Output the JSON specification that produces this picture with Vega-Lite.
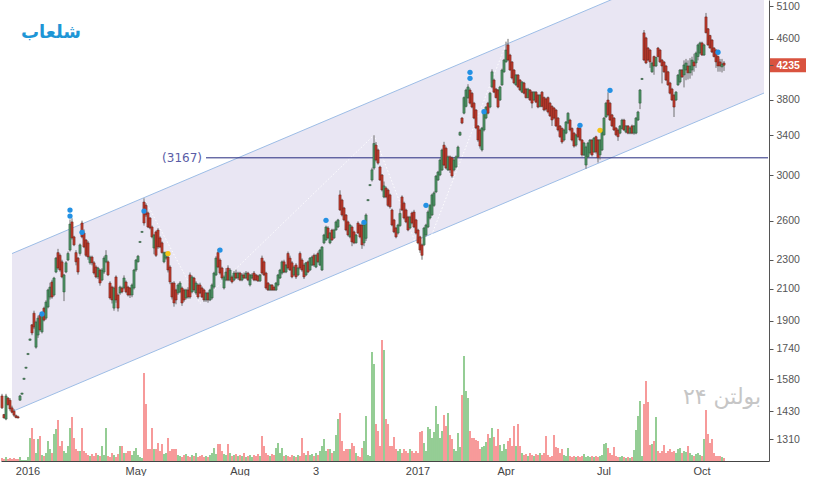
{
  "$schema": "https://vega.github.io/schema/vega-lite/v6.json",
  "width": 768,
  "height": 461,
  "padding": 0,
  "background": "white",
  "config": {"view": {"stroke": null}, "font": "Liberation Sans"},
  "title": {"text": "شلعاب", "anchor": "start", "frame": "group", "offset": -42, "dx": 20, "font": "DejaVu Sans", "fontSize": 18, "fontWeight": "bold", "color": "#1e96d6"},
  "datasets": {
    "bars": [
      {"d":"2015-12-14","o":1500,"h":1510,"l":1440,"c":1445,"v":30},
      {"d":"2015-12-15","o":1415,"h":1418,"l":1398,"c":1400,"v":20},
      {"d":"2015-12-16","o":1395,"h":1510,"l":1390,"c":1500,"v":40},
      {"d":"2015-12-19","o":1490,"h":1495,"l":1455,"c":1460,"v":20},
      {"d":"2015-12-20","o":1480,"h":1490,"l":1430,"c":1440,"v":30},
      {"d":"2015-12-21","o":1445,"h":1455,"l":1420,"c":1425,"v":20},
      {"d":"2015-12-22","o":1430,"h":1440,"l":1405,"c":1412,"v":30},
      {"d":"2015-12-23","o":1410,"h":1415,"l":1398,"c":1402,"v":20},
      {"d":"2015-12-26","o":1405,"h":1410,"l":1398,"c":1400,"v":20},
      {"d":"2015-12-27","o":1480,"h":1505,"l":1478,"c":1500,"v":40},
      {"d":"2015-12-28","o":1508,"h":1514,"l":1508,"c":1514,"v":10},
      {"d":"2015-12-29","o":1580,"h":1586,"l":1580,"c":1586,"v":10},
      {"d":"2015-12-30","o":1636,"h":1642,"l":1636,"c":1642,"v":10},
      {"d":"2016-01-02","o":1708,"h":1714,"l":1708,"c":1714,"v":40},
      {"d":"2016-01-03","o":1786,"h":1794,"l":1786,"c":1794,"v":230},
      {"d":"2016-01-04","o":1875,"h":1880,"l":1815,"c":1828,"v":330},
      {"d":"2016-01-05","o":1945,"h":1960,"l":1850,"c":1862,"v":220},
      {"d":"2016-01-06","o":1748,"h":1900,"l":1740,"c":1891,"v":80},
      {"d":"2016-01-09","o":1816,"h":1930,"l":1800,"c":1915,"v":220},
      {"d":"2016-01-10","o":1933,"h":1940,"l":1835,"c":1845,"v":250},
      {"d":"2016-01-11","o":1834,"h":1950,"l":1825,"c":1939,"v":60},
      {"d":"2016-01-12","o":1976,"h":1985,"l":1895,"c":1903,"v":50},
      {"d":"2016-01-13","o":1915,"h":2025,"l":1905,"c":2014,"v":80},
      {"d":"2016-01-16","o":1983,"h":2100,"l":1975,"c":2092,"v":200},
      {"d":"2016-01-17","o":2046,"h":2140,"l":2030,"c":2111,"v":120},
      {"d":"2016-01-18","o":2145,"h":2160,"l":2035,"c":2046,"v":80},
      {"d":"2016-01-19","o":2059,"h":2180,"l":2050,"c":2172,"v":270},
      {"d":"2016-01-20","o":2213,"h":2320,"l":2205,"c":2312,"v":320},
      {"d":"2016-01-23","o":2352,"h":2380,"l":2230,"c":2241,"v":410},
      {"d":"2016-01-24","o":2332,"h":2345,"l":2215,"c":2227,"v":150},
      {"d":"2016-01-25","o":2285,"h":2300,"l":2170,"c":2179,"v":200},
      {"d":"2016-01-26","o":2079,"h":2200,"l":2020,"c":2193,"v":100},
      {"d":"2016-01-27","o":2213,"h":2290,"l":2205,"c":2278,"v":80},
      {"d":"2016-01-30","o":2298,"h":2360,"l":2290,"c":2346,"v":150},
      {"d":"2016-01-31","o":2371,"h":2610,"l":2360,"c":2573,"v":330},
      {"d":"2016-02-01","o":2590,"h":2620,"l":2450,"c":2463,"v":440},
      {"d":"2016-02-02","o":2471,"h":2480,"l":2400,"c":2410,"v":230},
      {"d":"2016-02-03","o":2352,"h":2370,"l":2260,"c":2285,"v":120},
      {"d":"2016-03-05","o":2312,"h":2320,"l":2195,"c":2213,"v":100},
      {"d":"2016-03-06","o":2346,"h":2420,"l":2330,"c":2410,"v":100},
      {"d":"2016-03-07","o":2581,"h":2600,"l":2460,"c":2471,"v":330},
      {"d":"2016-03-08","o":2501,"h":2530,"l":2385,"c":2394,"v":100},
      {"d":"2016-03-09","o":2447,"h":2455,"l":2320,"c":2332,"v":80},
      {"d":"2016-03-12","o":2425,"h":2440,"l":2300,"c":2320,"v":60},
      {"d":"2016-03-13","o":2278,"h":2330,"l":2265,"c":2320,"v":50},
      {"d":"2016-03-14","o":2320,"h":2330,"l":2260,"c":2278,"v":70},
      {"d":"2016-03-15","o":2278,"h":2290,"l":2195,"c":2206,"v":50},
      {"d":"2016-03-16","o":2248,"h":2260,"l":2170,"c":2179,"v":80},
      {"d":"2016-04-03","o":2179,"h":2250,"l":2165,"c":2241,"v":60},
      {"d":"2016-04-04","o":2227,"h":2235,"l":2120,"c":2138,"v":50},
      {"d":"2016-04-05","o":2158,"h":2240,"l":2150,"c":2227,"v":150},
      {"d":"2016-04-06","o":2213,"h":2325,"l":2200,"c":2312,"v":60},
      {"d":"2016-04-09","o":2285,"h":2370,"l":2275,"c":2332,"v":330},
      {"d":"2016-04-10","o":2285,"h":2295,"l":2185,"c":2193,"v":50},
      {"d":"2016-04-11","o":2138,"h":2150,"l":2030,"c":2040,"v":40},
      {"d":"2016-04-12","o":2111,"h":2120,"l":2005,"c":2027,"v":80},
      {"d":"2016-04-13","o":1976,"h":2115,"l":1960,"c":2105,"v":60},
      {"d":"2016-04-16","o":2179,"h":2190,"l":2010,"c":2027,"v":40},
      {"d":"2016-04-17","o":2059,"h":2070,"l":1955,"c":1976,"v":70},
      {"d":"2016-04-18","o":2072,"h":2120,"l":2060,"c":2111,"v":150},
      {"d":"2016-04-19","o":2105,"h":2115,"l":2070,"c":2079,"v":150},
      {"d":"2016-04-20","o":2105,"h":2190,"l":2095,"c":2172,"v":80},
      {"d":"2016-04-23","o":2145,"h":2155,"l":2070,"c":2079,"v":80},
      {"d":"2016-04-24","o":2111,"h":2120,"l":2050,"c":2059,"v":100},
      {"d":"2016-04-25","o":2105,"h":2110,"l":2040,"c":2059,"v":100},
      {"d":"2016-04-26","o":2059,"h":2135,"l":2045,"c":2125,"v":60},
      {"d":"2016-04-27","o":2105,"h":2235,"l":2095,"c":2227,"v":100},
      {"d":"2016-05-01","o":2227,"h":2305,"l":2215,"c":2298,"v":130},
      {"d":"2016-05-02","o":2285,"h":2335,"l":2280,"c":2326,"v":60},
      {"d":"2016-05-03","o":2428,"h":2436,"l":2428,"c":2436,"v":40},
      {"d":"2016-05-04","o":2506,"h":2514,"l":2506,"c":2514,"v":30},
      {"d":"2016-05-07","o":2757,"h":2790,"l":2560,"c":2581,"v":880},
      {"d":"2016-05-08","o":2728,"h":2745,"l":2630,"c":2647,"v":570},
      {"d":"2016-05-09","o":2664,"h":2675,"l":2540,"c":2549,"v":120},
      {"d":"2016-05-10","o":2622,"h":2630,"l":2530,"c":2541,"v":120},
      {"d":"2016-05-11","o":2549,"h":2560,"l":2460,"c":2471,"v":330},
      {"d":"2016-05-14","o":2386,"h":2495,"l":2340,"c":2486,"v":120},
      {"d":"2016-05-15","o":2510,"h":2520,"l":2320,"c":2332,"v":120},
      {"d":"2016-05-16","o":2525,"h":2540,"l":2380,"c":2394,"v":180},
      {"d":"2016-05-17","o":2463,"h":2475,"l":2385,"c":2394,"v":100},
      {"d":"2016-05-18","o":2425,"h":2435,"l":2345,"c":2352,"v":170},
      {"d":"2016-05-21","o":2285,"h":2360,"l":2275,"c":2352,"v":70},
      {"d":"2016-05-22","o":2312,"h":2360,"l":2300,"c":2352,"v":80},
      {"d":"2016-05-23","o":2320,"h":2330,"l":2210,"c":2227,"v":230},
      {"d":"2016-05-24","o":2248,"h":2260,"l":2130,"c":2145,"v":100},
      {"d":"2016-05-25","o":2138,"h":2145,"l":2030,"c":2046,"v":120},
      {"d":"2016-05-28","o":2138,"h":2150,"l":1985,"c":2008,"v":120},
      {"d":"2016-05-29","o":2092,"h":2100,"l":2000,"c":2027,"v":120},
      {"d":"2016-05-30","o":2072,"h":2135,"l":2060,"c":2125,"v":60},
      {"d":"2016-06-01","o":2079,"h":2150,"l":2070,"c":2138,"v":50},
      {"d":"2016-06-06","o":2105,"h":2115,"l":1990,"c":2008,"v":40},
      {"d":"2016-06-07","o":2092,"h":2100,"l":2015,"c":2027,"v":60},
      {"d":"2016-06-08","o":2040,"h":2100,"l":2030,"c":2092,"v":70},
      {"d":"2016-06-18","o":2092,"h":2110,"l":2035,"c":2046,"v":50},
      {"d":"2016-06-19","o":2193,"h":2210,"l":2035,"c":2046,"v":40},
      {"d":"2016-06-20","o":2079,"h":2190,"l":2070,"c":2179,"v":60},
      {"d":"2016-06-21","o":2172,"h":2180,"l":2080,"c":2092,"v":50},
      {"d":"2016-06-22","o":2072,"h":2150,"l":2060,"c":2138,"v":80},
      {"d":"2016-06-25","o":2125,"h":2135,"l":2035,"c":2046,"v":40},
      {"d":"2016-06-26","o":2125,"h":2140,"l":2065,"c":2072,"v":50},
      {"d":"2016-06-28","o":2105,"h":2115,"l":2040,"c":2046,"v":60},
      {"d":"2016-06-29","o":2092,"h":2100,"l":2015,"c":2027,"v":40},
      {"d":"2016-07-09","o":2027,"h":2080,"l":2015,"c":2072,"v":50},
      {"d":"2016-07-10","o":2072,"h":2080,"l":2010,"c":2027,"v":40},
      {"d":"2016-07-11","o":2027,"h":2100,"l":2020,"c":2092,"v":60},
      {"d":"2016-07-12","o":2040,"h":2135,"l":2030,"c":2125,"v":80},
      {"d":"2016-07-13","o":2111,"h":2215,"l":2100,"c":2206,"v":130},
      {"d":"2016-07-16","o":2193,"h":2325,"l":2185,"c":2312,"v":70},
      {"d":"2016-07-17","o":2352,"h":2380,"l":2240,"c":2248,"v":170},
      {"d":"2016-07-18","o":2298,"h":2310,"l":2195,"c":2206,"v":170},
      {"d":"2016-07-19","o":2241,"h":2250,"l":2160,"c":2172,"v":100},
      {"d":"2016-07-20","o":2105,"h":2190,"l":2095,"c":2179,"v":70},
      {"d":"2016-07-23","o":2158,"h":2240,"l":2150,"c":2213,"v":60},
      {"d":"2016-07-24","o":2241,"h":2260,"l":2150,"c":2158,"v":170},
      {"d":"2016-07-25","o":2158,"h":2240,"l":2150,"c":2227,"v":80},
      {"d":"2016-07-26","o":2179,"h":2190,"l":2135,"c":2145,"v":50},
      {"d":"2016-07-27","o":2158,"h":2220,"l":2150,"c":2206,"v":60},
      {"d":"2016-07-30","o":2206,"h":2230,"l":2165,"c":2172,"v":70},
      {"d":"2016-07-31","o":2172,"h":2215,"l":2160,"c":2206,"v":50},
      {"d":"2016-08-01","o":2206,"h":2215,"l":2150,"c":2158,"v":60},
      {"d":"2016-08-02","o":2158,"h":2205,"l":2150,"c":2193,"v":50},
      {"d":"2016-08-03","o":2193,"h":2210,"l":2165,"c":2172,"v":80},
      {"d":"2016-08-06","o":2172,"h":2220,"l":2165,"c":2206,"v":40},
      {"d":"2016-08-07","o":2206,"h":2215,"l":2150,"c":2158,"v":50},
      {"d":"2016-08-08","o":2125,"h":2200,"l":2115,"c":2193,"v":60},
      {"d":"2016-08-09","o":2172,"h":2205,"l":2165,"c":2193,"v":40},
      {"d":"2016-08-10","o":2206,"h":2220,"l":2150,"c":2158,"v":60},
      {"d":"2016-08-13","o":2193,"h":2200,"l":2150,"c":2158,"v":50},
      {"d":"2016-08-14","o":2186,"h":2195,"l":2145,"c":2152,"v":70},
      {"d":"2016-08-15","o":2152,"h":2200,"l":2145,"c":2193,"v":50},
      {"d":"2016-08-16","o":2312,"h":2330,"l":2195,"c":2206,"v":250},
      {"d":"2016-08-17","o":2285,"h":2295,"l":2185,"c":2193,"v":150},
      {"d":"2016-08-20","o":2206,"h":2215,"l":2095,"c":2105,"v":80},
      {"d":"2016-08-21","o":2138,"h":2145,"l":2085,"c":2092,"v":60},
      {"d":"2016-08-22","o":2092,"h":2130,"l":2085,"c":2125,"v":50},
      {"d":"2016-08-23","o":2125,"h":2130,"l":2085,"c":2092,"v":70},
      {"d":"2016-08-24","o":2111,"h":2115,"l":2085,"c":2092,"v":60},
      {"d":"2016-09-03","o":2092,"h":2145,"l":2085,"c":2138,"v":130},
      {"d":"2016-09-04","o":2125,"h":2200,"l":2115,"c":2193,"v":180},
      {"d":"2016-09-05","o":2172,"h":2235,"l":2165,"c":2227,"v":80},
      {"d":"2016-09-06","o":2206,"h":2295,"l":2195,"c":2285,"v":130},
      {"d":"2016-09-07","o":2285,"h":2300,"l":2205,"c":2213,"v":50},
      {"d":"2016-09-10","o":2213,"h":2270,"l":2205,"c":2262,"v":60},
      {"d":"2016-09-11","o":2346,"h":2360,"l":2230,"c":2241,"v":50},
      {"d":"2016-09-13","o":2312,"h":2330,"l":2220,"c":2227,"v":40},
      {"d":"2016-09-14","o":2278,"h":2290,"l":2170,"c":2179,"v":60},
      {"d":"2016-09-17","o":2193,"h":2260,"l":2185,"c":2248,"v":50},
      {"d":"2016-09-18","o":2262,"h":2275,"l":2165,"c":2179,"v":40},
      {"d":"2016-09-19","o":2193,"h":2250,"l":2185,"c":2241,"v":60},
      {"d":"2016-09-21","o":2346,"h":2360,"l":2230,"c":2241,"v":50},
      {"d":"2016-09-24","o":2298,"h":2310,"l":2215,"c":2227,"v":230},
      {"d":"2016-09-25","o":2262,"h":2275,"l":2165,"c":2179,"v":80},
      {"d":"2016-09-26","o":2193,"h":2285,"l":2185,"c":2278,"v":60},
      {"d":"2016-09-27","o":2285,"h":2295,"l":2205,"c":2213,"v":100},
      {"d":"2016-09-28","o":2227,"h":2320,"l":2220,"c":2312,"v":60},
      {"d":"2016-10-01","o":2262,"h":2330,"l":2255,"c":2320,"v":70},
      {"d":"2016-10-02","o":2332,"h":2345,"l":2250,"c":2262,"v":50},
      {"d":"2016-10-03","o":2248,"h":2340,"l":2240,"c":2332,"v":80},
      {"d":"2016-10-04","o":2346,"h":2360,"l":2275,"c":2285,"v":60},
      {"d":"2016-10-05","o":2262,"h":2380,"l":2255,"c":2371,"v":100},
      {"d":"2016-10-08","o":2227,"h":2400,"l":2220,"c":2394,"v":150},
      {"d":"2016-10-09","o":2425,"h":2495,"l":2415,"c":2486,"v":220},
      {"d":"2016-10-10","o":2447,"h":2560,"l":2440,"c":2549,"v":100},
      {"d":"2016-10-15","o":2541,"h":2555,"l":2455,"c":2463,"v":120},
      {"d":"2016-10-16","o":2425,"h":2510,"l":2415,"c":2501,"v":120},
      {"d":"2016-10-17","o":2525,"h":2535,"l":2440,"c":2447,"v":80},
      {"d":"2016-10-18","o":2463,"h":2535,"l":2455,"c":2525,"v":100},
      {"d":"2016-10-19","o":2525,"h":2600,"l":2520,"c":2590,"v":260},
      {"d":"2016-10-22","o":2549,"h":2615,"l":2540,"c":2606,"v":420},
      {"d":"2016-10-23","o":2819,"h":2860,"l":2680,"c":2689,"v":480},
      {"d":"2016-10-24","o":2774,"h":2785,"l":2635,"c":2647,"v":200},
      {"d":"2016-10-25","o":2706,"h":2715,"l":2595,"c":2606,"v":100},
      {"d":"2016-10-26","o":2647,"h":2655,"l":2515,"c":2525,"v":120},
      {"d":"2016-10-29","o":2590,"h":2600,"l":2475,"c":2486,"v":120},
      {"d":"2016-10-30","o":2471,"h":2575,"l":2460,"c":2565,"v":120},
      {"d":"2016-10-31","o":2549,"h":2560,"l":2400,"c":2432,"v":180},
      {"d":"2016-11-01","o":2510,"h":2520,"l":2415,"c":2425,"v":150},
      {"d":"2016-11-02","o":2425,"h":2495,"l":2420,"c":2486,"v":80},
      {"d":"2016-11-08","o":2581,"h":2595,"l":2495,"c":2501,"v":50},
      {"d":"2016-11-09","o":2565,"h":2575,"l":2460,"c":2471,"v":40},
      {"d":"2016-11-12","o":2565,"h":2580,"l":2380,"c":2410,"v":130},
      {"d":"2016-11-13","o":2425,"h":2580,"l":2400,"c":2565,"v":200},
      {"d":"2016-11-14","o":2460,"h":2660,"l":2440,"c":2647,"v":450},
      {"d":"2016-11-15","o":2768,"h":2778,"l":2768,"c":2778,"v":60},
      {"d":"2016-11-16","o":2902,"h":2912,"l":2902,"c":2912,"v":50},
      {"d":"2016-11-19","o":2954,"h":3070,"l":2940,"c":3050,"v":1090},
      {"d":"2016-11-21","o":3067,"h":3400,"l":3050,"c":3313,"v":970},
      {"d":"2016-11-22","o":3296,"h":3330,"l":3130,"c":3145,"v":370},
      {"d":"2016-11-23","o":3246,"h":3260,"l":3100,"c":3115,"v":300},
      {"d":"2016-11-26","o":3077,"h":3090,"l":2945,"c":2954,"v":150},
      {"d":"2016-11-27","o":3001,"h":3010,"l":2850,"c":2863,"v":1210},
      {"d":"2016-11-30","o":2800,"h":2940,"l":2790,"c":2900,"v":1110},
      {"d":"2016-12-10","o":2881,"h":2895,"l":2790,"c":2801,"v":420},
      {"d":"2016-12-11","o":2863,"h":2875,"l":2715,"c":2728,"v":370},
      {"d":"2016-12-12","o":2819,"h":2830,"l":2700,"c":2715,"v":150},
      {"d":"2016-12-13","o":2689,"h":2700,"l":2555,"c":2565,"v":150},
      {"d":"2016-12-14","o":2606,"h":2615,"l":2500,"c":2510,"v":240},
      {"d":"2016-12-17","o":2541,"h":2550,"l":2460,"c":2471,"v":120},
      {"d":"2016-12-18","o":2501,"h":2575,"l":2490,"c":2565,"v":100},
      {"d":"2016-12-19","o":2560,"h":2700,"l":2550,"c":2660,"v":120},
      {"d":"2016-12-20","o":2801,"h":2815,"l":2680,"c":2689,"v":80},
      {"d":"2016-12-21","o":2747,"h":2760,"l":2610,"c":2622,"v":120},
      {"d":"2016-12-24","o":2689,"h":2700,"l":2580,"c":2590,"v":100},
      {"d":"2016-12-25","o":2630,"h":2640,"l":2515,"c":2525,"v":80},
      {"d":"2016-12-26","o":2541,"h":2640,"l":2530,"c":2630,"v":120},
      {"d":"2016-12-27","o":2664,"h":2675,"l":2570,"c":2581,"v":100},
      {"d":"2016-12-28","o":2672,"h":2690,"l":2540,"c":2549,"v":80},
      {"d":"2016-12-31","o":2606,"h":2615,"l":2490,"c":2501,"v":100},
      {"d":"2017-01-01","o":2525,"h":2535,"l":2415,"c":2425,"v":80},
      {"d":"2017-01-02","o":2471,"h":2480,"l":2350,"c":2371,"v":290},
      {"d":"2017-01-03","o":2410,"h":2420,"l":2300,"c":2332,"v":300},
      {"d":"2017-01-04","o":2410,"h":2550,"l":2400,"c":2541,"v":180},
      {"d":"2017-01-07","o":2486,"h":2575,"l":2475,"c":2565,"v":100},
      {"d":"2017-01-08","o":2549,"h":2685,"l":2540,"c":2672,"v":340},
      {"d":"2017-01-09","o":2622,"h":2740,"l":2610,"c":2728,"v":320},
      {"d":"2017-01-10","o":2647,"h":2830,"l":2640,"c":2819,"v":230},
      {"d":"2017-01-11","o":2728,"h":2850,"l":2715,"c":2837,"v":290},
      {"d":"2017-01-14","o":2845,"h":3000,"l":2835,"c":2991,"v":550},
      {"d":"2017-01-15","o":2954,"h":3040,"l":2945,"c":3029,"v":370},
      {"d":"2017-01-16","o":3001,"h":3160,"l":2990,"c":3145,"v":230},
      {"d":"2017-01-17","o":3048,"h":3260,"l":3040,"c":3246,"v":300},
      {"d":"2017-01-18","o":3296,"h":3330,"l":3085,"c":3096,"v":460},
      {"d":"2017-01-21","o":3264,"h":3280,"l":3055,"c":3067,"v":350},
      {"d":"2017-01-22","o":3048,"h":3190,"l":3040,"c":3177,"v":480},
      {"d":"2017-01-23","o":3177,"h":3190,"l":3020,"c":3048,"v":260},
      {"d":"2017-01-24","o":3167,"h":3180,"l":2975,"c":2991,"v":220},
      {"d":"2017-01-25","o":3048,"h":3160,"l":3035,"c":3145,"v":120},
      {"d":"2017-02-04","o":3077,"h":3190,"l":3065,"c":3177,"v":100},
      {"d":"2017-02-05","o":3177,"h":3290,"l":3165,"c":3276,"v":280},
      {"d":"2017-02-06","o":3400,"h":3440,"l":3395,"c":3430,"v":140},
      {"d":"2017-02-07","o":3588,"h":3600,"l":3520,"c":3532,"v":660},
      {"d":"2017-02-08","o":3643,"h":3840,"l":3630,"c":3826,"v":1050},
      {"d":"2017-02-11","o":3722,"h":3935,"l":3710,"c":3918,"v":700},
      {"d":"2017-02-12","o":3826,"h":3990,"l":3810,"c":3956,"v":630},
      {"d":"2017-02-13","o":3918,"h":3940,"l":3745,"c":3760,"v":300},
      {"d":"2017-02-14","o":3879,"h":3895,"l":3700,"c":3714,"v":230},
      {"d":"2017-02-15","o":3760,"h":3775,"l":3575,"c":3588,"v":230},
      {"d":"2017-02-18","o":3680,"h":3690,"l":3465,"c":3478,"v":210},
      {"d":"2017-02-19","o":3500,"h":3510,"l":3330,"c":3349,"v":200},
      {"d":"2017-02-20","o":3456,"h":3470,"l":3260,"c":3286,"v":120},
      {"d":"2017-02-21","o":3246,"h":3490,"l":3230,"c":3478,"v":140},
      {"d":"2017-02-22","o":3456,"h":3655,"l":3440,"c":3643,"v":150},
      {"d":"2017-03-04","o":3588,"h":3725,"l":3575,"c":3714,"v":190},
      {"d":"2017-03-05","o":3760,"h":3775,"l":3630,"c":3643,"v":270},
      {"d":"2017-03-06","o":3714,"h":3895,"l":3700,"c":3879,"v":230},
      {"d":"2017-03-07","o":3956,"h":4180,"l":3940,"c":4148,"v":330},
      {"d":"2017-03-08","o":4043,"h":4060,"l":3880,"c":3892,"v":240},
      {"d":"2017-03-11","o":3930,"h":3945,"l":3815,"c":3826,"v":150},
      {"d":"2017-03-12","o":3918,"h":3930,"l":3700,"c":3714,"v":320},
      {"d":"2017-03-13","o":3797,"h":3970,"l":3785,"c":3956,"v":160},
      {"d":"2017-03-14","o":3981,"h":4190,"l":3970,"c":4172,"v":100},
      {"d":"2017-03-15","o":4148,"h":4320,"l":4135,"c":4305,"v":170},
      {"d":"2017-04-03","o":4279,"h":4560,"l":4270,"c":4442,"v":120},
      {"d":"2017-04-04","o":4514,"h":4600,"l":4290,"c":4305,"v":200},
      {"d":"2017-04-05","o":4373,"h":4390,"l":4160,"c":4172,"v":230},
      {"d":"2017-04-08","o":4279,"h":4290,"l":4050,"c":4068,"v":150},
      {"d":"2017-04-09","o":4172,"h":4185,"l":3990,"c":4006,"v":350},
      {"d":"2017-04-10","o":3981,"h":4120,"l":3970,"c":4107,"v":150},
      {"d":"2017-04-11","o":4107,"h":4120,"l":3940,"c":3956,"v":370},
      {"d":"2017-04-12","o":4043,"h":4055,"l":3905,"c":3918,"v":150},
      {"d":"2017-04-15","o":3892,"h":4030,"l":3880,"c":4018,"v":80},
      {"d":"2017-04-16","o":4006,"h":4020,"l":3865,"c":3879,"v":60},
      {"d":"2017-04-17","o":3930,"h":3945,"l":3815,"c":3826,"v":70},
      {"d":"2017-04-18","o":3826,"h":3945,"l":3815,"c":3930,"v":50},
      {"d":"2017-04-19","o":3918,"h":3930,"l":3785,"c":3797,"v":80},
      {"d":"2017-04-22","o":3892,"h":3905,"l":3700,"c":3760,"v":60},
      {"d":"2017-04-23","o":3797,"h":3905,"l":3785,"c":3892,"v":50},
      {"d":"2017-04-25","o":3892,"h":3905,"l":3760,"c":3772,"v":70},
      {"d":"2017-04-26","o":3855,"h":3870,"l":3700,"c":3714,"v":60},
      {"d":"2017-05-03","o":3722,"h":3870,"l":3710,"c":3855,"v":80},
      {"d":"2017-05-06","o":3892,"h":3905,"l":3710,"c":3722,"v":60},
      {"d":"2017-05-07","o":3826,"h":3840,"l":3665,"c":3680,"v":80},
      {"d":"2017-05-08","o":3810,"h":3825,"l":3670,"c":3690,"v":250},
      {"d":"2017-05-09","o":3826,"h":3840,"l":3640,"c":3657,"v":60},
      {"d":"2017-05-10","o":3760,"h":3775,"l":3600,"c":3612,"v":40},
      {"d":"2017-05-13","o":3722,"h":3735,"l":3500,"c":3566,"v":50},
      {"d":"2017-05-14","o":3703,"h":3715,"l":3575,"c":3588,"v":260},
      {"d":"2017-05-15","o":3680,"h":3690,"l":3490,"c":3500,"v":140},
      {"d":"2017-05-16","o":3588,"h":3600,"l":3440,"c":3456,"v":130},
      {"d":"2017-05-17","o":3500,"h":3510,"l":3370,"c":3384,"v":80},
      {"d":"2017-05-27","o":3473,"h":3485,"l":3310,"c":3328,"v":120},
      {"d":"2017-05-28","o":3349,"h":3470,"l":3335,"c":3456,"v":60},
      {"d":"2017-05-29","o":3422,"h":3555,"l":3410,"c":3544,"v":50},
      {"d":"2017-05-30","o":3532,"h":3655,"l":3520,"c":3643,"v":130},
      {"d":"2017-05-31","o":3566,"h":3580,"l":3440,"c":3456,"v":50},
      {"d":"2017-06-03","o":3473,"h":3485,"l":3335,"c":3349,"v":40},
      {"d":"2017-06-06","o":3422,"h":3435,"l":3270,"c":3286,"v":50},
      {"d":"2017-06-07","o":3296,"h":3415,"l":3280,"c":3404,"v":40},
      {"d":"2017-06-10","o":3478,"h":3490,"l":3370,"c":3384,"v":50},
      {"d":"2017-06-11","o":3473,"h":3485,"l":3335,"c":3349,"v":40},
      {"d":"2017-06-12","o":3349,"h":3360,"l":3180,"c":3196,"v":50},
      {"d":"2017-06-13","o":3196,"h":3330,"l":3185,"c":3318,"v":70},
      {"d":"2017-06-14","o":3096,"h":3290,"l":3060,"c":3276,"v":40},
      {"d":"2017-06-17","o":3177,"h":3330,"l":3165,"c":3318,"v":50},
      {"d":"2017-06-18","o":3216,"h":3360,"l":3200,"c":3349,"v":40},
      {"d":"2017-06-19","o":3349,"h":3360,"l":3180,"c":3196,"v":50},
      {"d":"2017-06-20","o":3226,"h":3380,"l":3215,"c":3370,"v":40},
      {"d":"2017-06-21","o":3384,"h":3395,"l":3210,"c":3226,"v":50},
      {"d":"2017-06-24","o":3349,"h":3360,"l":3120,"c":3167,"v":40},
      {"d":"2017-06-25","o":3196,"h":3360,"l":3150,"c":3349,"v":50},
      {"d":"2017-06-28","o":3246,"h":3470,"l":3235,"c":3456,"v":60},
      {"d":"2017-07-01","o":3404,"h":3600,"l":3395,"c":3588,"v":170},
      {"d":"2017-07-02","o":3600,"h":3775,"l":3590,"c":3760,"v":180},
      {"d":"2017-07-03","o":3797,"h":3890,"l":3610,"c":3624,"v":130},
      {"d":"2017-07-04","o":3760,"h":3775,"l":3555,"c":3566,"v":80},
      {"d":"2017-07-05","o":3624,"h":3635,"l":3490,"c":3500,"v":60},
      {"d":"2017-07-08","o":3588,"h":3600,"l":3445,"c":3456,"v":140},
      {"d":"2017-07-09","o":3478,"h":3490,"l":3390,"c":3404,"v":50},
      {"d":"2017-07-10","o":3456,"h":3470,"l":3340,"c":3384,"v":40},
      {"d":"2017-07-11","o":3422,"h":3510,"l":3410,"c":3500,"v":40},
      {"d":"2017-07-12","o":3473,"h":3580,"l":3460,"c":3566,"v":50},
      {"d":"2017-07-15","o":3566,"h":3580,"l":3445,"c":3456,"v":40},
      {"d":"2017-07-16","o":3433,"h":3510,"l":3420,"c":3500,"v":30},
      {"d":"2017-07-17","o":3500,"h":3510,"l":3410,"c":3422,"v":40},
      {"d":"2017-07-18","o":3422,"h":3490,"l":3410,"c":3478,"v":30},
      {"d":"2017-07-19","o":3500,"h":3515,"l":3410,"c":3422,"v":40},
      {"d":"2017-07-22","o":3422,"h":3510,"l":3405,"c":3500,"v":110},
      {"d":"2017-07-23","o":3422,"h":3600,"l":3410,"c":3588,"v":310},
      {"d":"2017-07-24","o":3566,"h":3670,"l":3555,"c":3657,"v":450},
      {"d":"2017-07-25","o":3760,"h":3930,"l":3690,"c":3918,"v":600},
      {"d":"2017-07-26","o":4050,"h":4070,"l":4045,"c":4062,"v":50},
      {"d":"2017-08-19","o":4688,"h":4730,"l":4290,"c":4305,"v":570},
      {"d":"2017-08-20","o":4614,"h":4630,"l":4250,"c":4265,"v":800},
      {"d":"2017-08-21","o":4470,"h":4485,"l":4290,"c":4305,"v":590},
      {"d":"2017-08-22","o":4442,"h":4455,"l":4200,"c":4279,"v":160},
      {"d":"2017-08-23","o":4148,"h":4280,"l":4135,"c":4265,"v":170},
      {"d":"2017-08-26","o":4352,"h":4365,"l":4110,"c":4225,"v":200},
      {"d":"2017-08-27","o":4225,"h":4350,"l":4210,"c":4339,"v":440},
      {"d":"2017-08-28","o":4470,"h":4485,"l":4340,"c":4352,"v":100},
      {"d":"2017-08-29","o":4442,"h":4455,"l":4265,"c":4279,"v":80},
      {"d":"2017-08-30","o":4305,"h":4320,"l":4000,"c":4225,"v":100},
      {"d":"2017-09-02","o":4279,"h":4290,"l":4135,"c":4148,"v":160},
      {"d":"2017-09-03","o":4225,"h":4240,"l":4030,"c":4043,"v":80},
      {"d":"2017-09-04","o":4148,"h":4160,"l":3970,"c":3981,"v":100},
      {"d":"2017-09-05","o":4006,"h":4020,"l":3865,"c":3879,"v":120},
      {"d":"2017-09-06","o":3930,"h":3945,"l":3785,"c":3797,"v":90},
      {"d":"2017-09-10","o":3855,"h":3870,"l":3600,"c":3714,"v":100},
      {"d":"2017-09-11","o":3797,"h":3905,"l":3785,"c":3892,"v":80},
      {"d":"2017-09-12","o":3981,"h":4120,"l":3970,"c":4107,"v":120},
      {"d":"2017-09-13","o":4018,"h":4185,"l":4000,"c":4172,"v":130},
      {"d":"2017-09-16","o":4172,"h":4185,"l":4070,"c":4081,"v":80},
      {"d":"2017-09-17","o":4107,"h":4300,"l":3950,"c":4239,"v":100},
      {"d":"2017-09-18","o":4172,"h":4320,"l":4040,"c":4265,"v":90},
      {"d":"2017-09-19","o":4225,"h":4300,"l":4050,"c":4135,"v":150},
      {"d":"2017-09-20","o":4135,"h":4330,"l":4060,"c":4225,"v":80},
      {"d":"2017-09-23","o":4172,"h":4350,"l":4100,"c":4305,"v":60},
      {"d":"2017-09-24","o":4279,"h":4390,"l":4150,"c":4225,"v":50},
      {"d":"2017-09-25","o":4265,"h":4420,"l":4200,"c":4400,"v":70},
      {"d":"2017-09-26","o":4352,"h":4530,"l":4300,"c":4514,"v":80},
      {"d":"2017-09-27","o":4400,"h":4560,"l":4380,"c":4542,"v":60},
      {"d":"2017-10-02","o":4542,"h":4560,"l":4360,"c":4373,"v":50},
      {"d":"2017-10-03","o":4373,"h":4530,"l":4360,"c":4514,"v":220},
      {"d":"2017-10-04","o":4928,"h":4990,"l":4680,"c":4690,"v":510},
      {"d":"2017-10-07","o":4748,"h":4760,"l":4500,"c":4514,"v":270},
      {"d":"2017-10-08","o":4649,"h":4660,"l":4460,"c":4471,"v":180},
      {"d":"2017-10-09","o":4584,"h":4595,"l":4400,"c":4414,"v":220},
      {"d":"2017-10-10","o":4471,"h":4480,"l":4340,"c":4352,"v":80},
      {"d":"2017-10-11","o":4442,"h":4455,"l":4200,"c":4279,"v":50},
      {"d":"2017-10-14","o":4352,"h":4365,"l":4150,"c":4225,"v":50},
      {"d":"2017-10-15","o":4279,"h":4320,"l":4150,"c":4225,"v":50},
      {"d":"2017-10-16","o":4212,"h":4320,"l":4140,"c":4252,"v":40},
      {"d":"2017-10-17","o":4265,"h":4290,"l":4160,"c":4235,"v":30}
    ],
    "channel": [
      {"d":"2015-12-21","lo":1428,"hi":2345},
      {"d":"2017-11-14","lo":3881,"hi":6372}
    ],
    "level": [
      {"d":"2016-07-09","d2":"2017-11-18","p":3167,"t":"(3167)"}
    ],
    "zigzag": [
      {"d":"2016-05-07","p":2790},
      {"d":"2016-06-26","p":2005},
      {"d":"2016-11-21","p":3400},
      {"d":"2017-01-03","p":2300},
      {"d":"2017-04-04","p":4600}
    ],
    "signals": [
      {"d":"2016-01-11","p":1940,"kind":"signal"},
      {"d":"2016-01-31","p":2688,"kind":"signal"},
      {"d":"2016-01-31","p":2638,"kind":"signal"},
      {"d":"2016-03-07","p":2507,"kind":"signal"},
      {"d":"2016-05-07","p":2680,"kind":"signal"},
      {"d":"2016-05-23","p":2344,"kind":"warning"},
      {"d":"2016-07-18","p":2371,"kind":"signal"},
      {"d":"2016-10-10","p":2603,"kind":"signal"},
      {"d":"2016-11-13","p":2587,"kind":"signal"},
      {"d":"2017-01-07","p":2728,"kind":"signal"},
      {"d":"2017-02-13","p":4142,"kind":"signal"},
      {"d":"2017-02-13","p":4065,"kind":"signal"},
      {"d":"2017-02-22","p":3660,"kind":"signal"},
      {"d":"2017-06-11","p":3507,"kind":"signal"},
      {"d":"2017-06-25","p":3453,"kind":"warning"},
      {"d":"2017-07-04","p":3914,"kind":"signal"},
      {"d":"2017-10-14","p":4411,"kind":"signal"}
    ],
    "brand": [
      {"d":"2017-10-16","p":1495,"t":"بولتن ۲۴"}
    ]
  },
  "encoding": {
    "x": {
      "field": "d",
      "type": "ordinal",
      "scale": {
        "type": "band",
        "paddingInner": 0,
        "paddingOuter": 0,
        "domain": {"unionWith": ["2017-10-18","2017-10-21","2017-10-22","2017-10-23","2017-10-24","2017-10-25","2017-10-28","2017-10-29","2017-10-30","2017-10-31","2017-11-01","2017-11-04","2017-11-05","2017-11-06","2017-11-07","2017-11-08","2017-11-11","2017-11-12","2017-11-13","2017-11-14","2017-11-15","2017-11-18"]}
      },
      "axis": {
        "values": ["2016-01-02","2016-05-01","2016-08-01","2016-10-03","2017-01-01","2017-04-03","2017-07-01","2017-10-02"],
        "labelExpr": "datum.value == '2016-01-02' ? '2016' : datum.value == '2016-05-01' ? 'May' : datum.value == '2016-08-01' ? 'Aug' : datum.value == '2016-10-03' ? '3' : datum.value == '2017-01-01' ? '2017' : datum.value == '2017-04-03' ? 'Apr' : datum.value == '2017-07-01' ? 'Jul' : 'Oct'",
        "title": null,
        "ticks": false,
        "grid": false,
        "domainColor": "#444444",
        "labelColor": "#444444",
        "labelFont": "Liberation Sans",
        "labelFontSize": 11,
        "labelAngle": 0,
        "labelPadding": 4,
        "labelOverlap": false,
        "labelFlush": false
      }
    }
  },
  "resolve": {"scale": {"y": "independent"}},
  "layer": [
    {
      "layer": [
        {
          "data": {"name": "channel"},
          "mark": {"type": "area", "color": "#e9e6f3", "opacity": 1, "clip": true},
          "encoding": {
            "y": {
              "field": "hi",
              "type": "quantitative",
              "scale": {"type": "log", "domain": [1223, 5197], "nice": false, "zero": false},
              "axis": {
                "orient": "right",
                "values": [1310, 1430, 1580, 1740, 1900, 2100, 2300, 2600, 3000, 3400, 3800, 4235, 4600, 5100],
                "format": "d",
                "title": null,
                "grid": false,
                "domainColor": "#555555",
                "tickColor": "#555555",
                "tickSize": 4,
                "labelPadding": 3,
                "labelFont": "Liberation Sans",
                "labelFontSize": 10.5,
                "labelColor": {"condition": {"test": "datum.value == 4235", "value": "#ffffff"}, "value": "#555555"},
                "labelFontWeight": {"condition": {"test": "datum.value == 4235", "value": "bold"}, "value": "normal"},
                "labelOverlap": false,
                "labelFlush": false,
                "zindex": 1
              }
            },
            "y2": {"field": "lo"}
          }
        },
        {
          "data": {"name": "channel"},
          "mark": {"type": "line", "color": "#9dbde6", "strokeWidth": 1, "clip": true},
          "encoding": {"y": {"field": "hi", "type": "quantitative"}}
        },
        {
          "data": {"name": "channel"},
          "mark": {"type": "line", "color": "#9dbde6", "strokeWidth": 1, "clip": true},
          "encoding": {"y": {"field": "lo", "type": "quantitative"}}
        },
        {
          "data": {"name": "zigzag"},
          "mark": {"type": "line", "color": "#ffffff", "strokeWidth": 1, "strokeDash": [1.5, 2], "opacity": 0.9},
          "encoding": {"y": {"field": "p", "type": "quantitative"}}
        },
        {
          "data": {"name": "level"},
          "mark": {"type": "rule", "color": "#252a7e", "strokeWidth": 1},
          "encoding": {"x2": {"field": "d2"}, "y": {"field": "p", "type": "quantitative"}}
        },
        {
          "data": {"name": "level"},
          "mark": {"type": "text", "align": "right", "baseline": "middle", "dx": -4, "font": "DejaVu Sans", "fontSize": 12, "color": "#5a5ca6"},
          "encoding": {"y": {"field": "p", "type": "quantitative"}, "text": {"field": "t"}}
        },
        {
          "data": {"name": "bars"},
          "mark": {"type": "rule", "color": "#6e6e6e", "strokeWidth": 1},
          "encoding": {"y": {"field": "l", "type": "quantitative"}, "y2": {"field": "h"}}
        },
        {
          "data": {"name": "bars"},
          "mark": {"type": "bar", "size": 2.2, "strokeWidth": 0.5},
          "encoding": {
            "y": {"field": "o", "type": "quantitative"},
            "y2": {"field": "c"},
            "fill": {"condition": {"test": "datum.c >= datum.o", "value": "#4e9464"}, "value": "#c23b2c"},
            "stroke": {"condition": {"test": "datum.c >= datum.o", "value": "#2c5238"}, "value": "#5e231c"}
          }
        },
        {
          "data": {"name": "signals"},
          "mark": {"type": "circle", "size": 28, "opacity": 1},
          "encoding": {
            "y": {"field": "p", "type": "quantitative"},
            "color": {"field": "kind", "type": "nominal", "scale": {"domain": ["signal", "warning"], "range": ["#2391e4", "#f5c518"]}, "legend": null}
          }
        },
        {
          "data": {"name": "brand"},
          "mark": {"type": "text", "align": "center", "baseline": "middle", "font": "DejaVu Sans", "fontSize": 22, "color": "#c6c6c6"},
          "encoding": {"y": {"field": "p", "type": "quantitative"}, "text": {"field": "t"}}
        },
        {
          "data": {"name": "bars"},
          "transform": [{"filter": "datum.d == '2017-10-17'"}],
          "mark": {"type": "tick", "thickness": 14, "xOffset": 63.5, "color": "#d9533f", "opacity": 1},
          "encoding": {"y": {"field": "c", "type": "quantitative"}, "size": {"value": 37}}
        }
      ]
    },
    {
      "data": {"name": "bars"},
      "mark": {"type": "bar", "size": 1.6, "opacity": 0.85},
      "encoding": {
        "y": {"field": "v", "type": "quantitative", "scale": {"domain": [0, 4610], "nice": false}, "axis": null},
        "color": {"condition": {"test": "datum.c >= datum.o", "value": "#62b562"}, "value": "#f26a6a"}
      }
    }
  ]
}
